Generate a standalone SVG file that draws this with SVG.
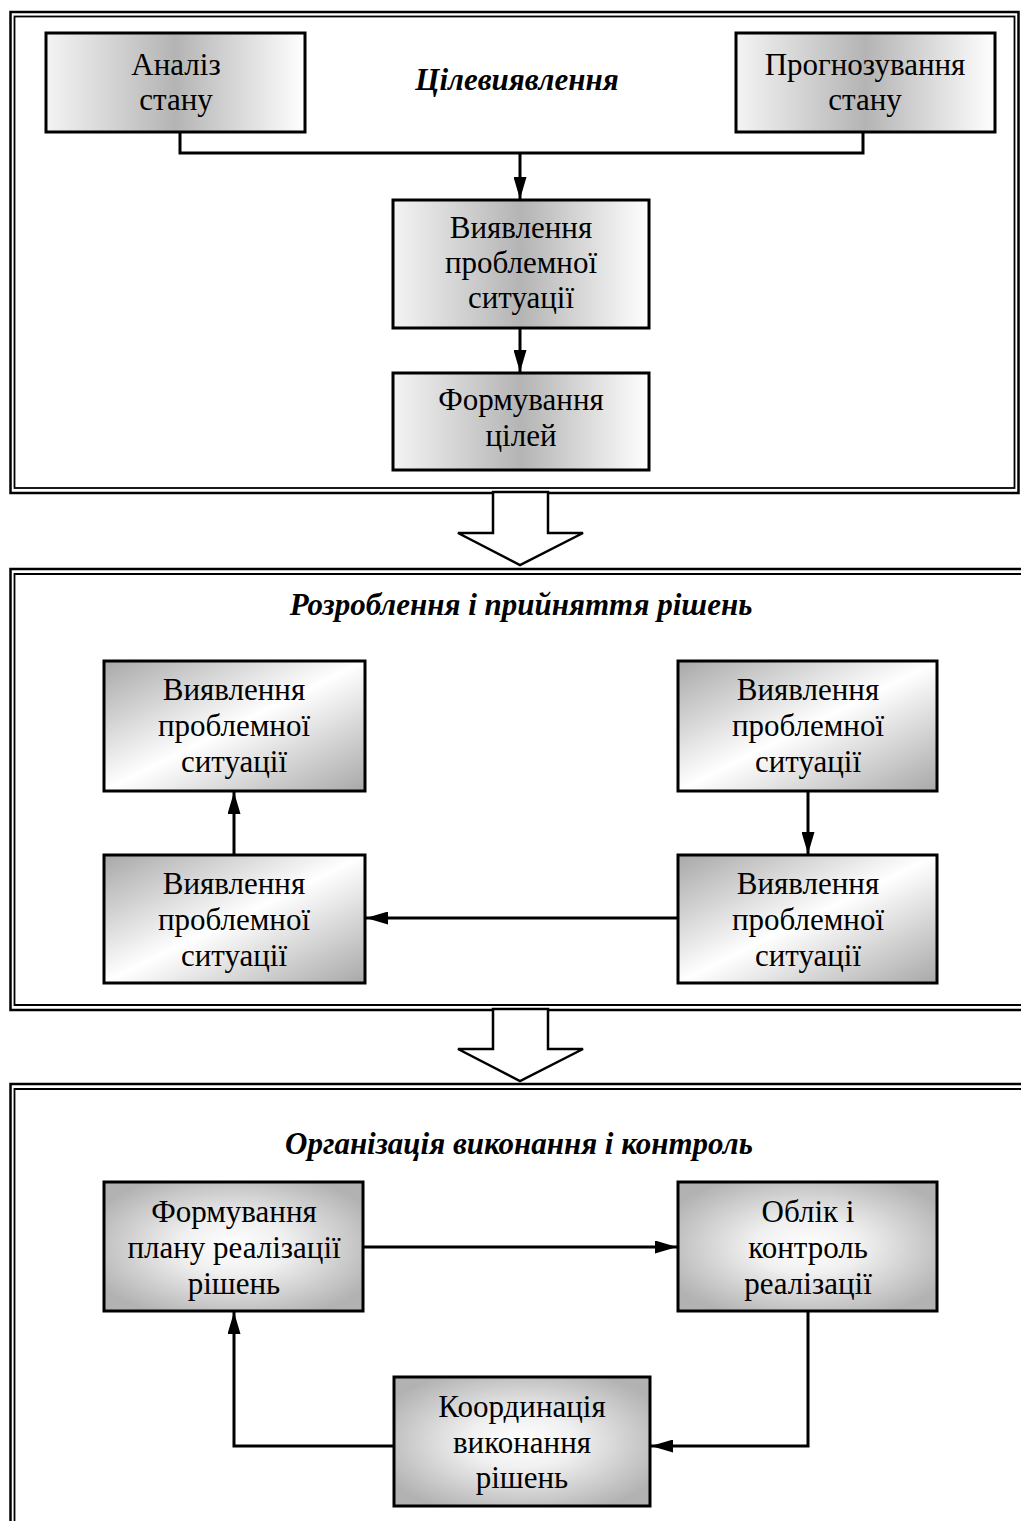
<svg xmlns="http://www.w3.org/2000/svg" width="1021" height="1521" viewBox="0 0 1021 1521">
  <defs>
    <style>
      .frame-o { fill: none; stroke: #000; stroke-width: 2.5; }
      .frame-i { fill: none; stroke: #000; stroke-width: 1.8; }
      .box { stroke: #000; stroke-width: 3; }
      .lbl { font-family: "Liberation Serif", "Times New Roman", serif; font-size: 31px; fill: #000; text-anchor: middle; }
      .ttl { font-family: "Liberation Serif", "Times New Roman", serif; font-size: 31px; font-weight: bold; font-style: italic; fill: #000; text-anchor: middle; }
      .wire { fill: none; stroke: #000; stroke-width: 3; }
      .big { fill: #fff; stroke: #000; stroke-width: 2.5; stroke-linejoin: miter; }
    </style>
    <!-- horizontal shading for the first block -->
    <linearGradient id="gH" x1="0" y1="0" x2="1" y2="0">
      <stop offset="0" stop-color="#f4f4f4"/>
      <stop offset="0.5" stop-color="#b4b4b4"/>
      <stop offset="1" stop-color="#ffffff"/>
    </linearGradient>
    <!-- diagonal shading for the second block -->
    <linearGradient id="gD" x1="0" y1="0" x2="1" y2="1">
      <stop offset="0" stop-color="#a8a8a8"/>
      <stop offset="0.5" stop-color="#ffffff"/>
      <stop offset="1" stop-color="#a8a8a8"/>
    </linearGradient>
    <!-- centre glow for the third block -->
    <radialGradient id="gR" cx="0.5" cy="0.5" r="0.6">
      <stop offset="0" stop-color="#ffffff"/>
      <stop offset="0.35" stop-color="#f0f0f0"/>
      <stop offset="1" stop-color="#b2b2b2"/>
    </radialGradient>
    <marker id="ah" viewBox="0 0 22 13" refX="22" refY="6.5" markerWidth="22" markerHeight="13" markerUnits="userSpaceOnUse" orient="auto">
      <path d="M0,0 L22,6.5 L0,13 Z" fill="#000"/>
    </marker>
  </defs>

  <rect width="1021" height="1521" fill="#fff"/>

  <!-- double-line section frames -->
  <g id="frames">
    <rect class="frame-o" x="10.5" y="12" width="1008" height="481"/>
    <rect class="frame-i" x="14.5" y="16.5" width="1000" height="471.5"/>
    <path class="frame-o" d="M1030,569 H10.5 V1010 H1030"/>
    <path class="frame-i" d="M1030,574 H14.5 V1005 H1030"/>
    <path class="frame-o" d="M1030,1084 H10.5 V1530"/>
    <path class="frame-i" d="M1030,1089 H14.5 V1530"/>
  </g>

  <!-- hollow block arrows between sections -->
  <g id="stage-arrows">
    <polygon class="big" points="493,492 493,533 458,533 520,565 583,533 548,533 548,492"/>
    <polygon class="big" points="493,1009 493,1049 458,1049 520,1081 583,1049 548,1049 548,1009"/>
  </g>

  <!-- section titles -->
  <g id="titles">
    <text class="ttl" x="517" y="90">Цілевиявлення</text>
    <text class="ttl" x="521" y="615">Розроблення і прийняття рішень</text>
    <text class="ttl" x="519" y="1154">Організація виконання і контроль</text>
  </g>

  <!-- connectors -->
  <g id="connectors">
    <path class="wire" d="M180,132 V153 H863 V132"/>
    <path class="wire" d="M520,153 V199" marker-end="url(#ah)"/>
    <path class="wire" d="M520,328 V372" marker-end="url(#ah)"/>

    <path class="wire" d="M234,855 V792" marker-end="url(#ah)"/>
    <path class="wire" d="M808,791 V854" marker-end="url(#ah)"/>
    <path class="wire" d="M678,918 H366" marker-end="url(#ah)"/>

    <path class="wire" d="M363,1247 H677" marker-end="url(#ah)"/>
    <path class="wire" d="M808,1311 V1446 H651" marker-end="url(#ah)"/>
    <path class="wire" d="M394,1446 H234 V1312" marker-end="url(#ah)"/>
  </g>

  <!-- section 1 nodes -->
  <g id="n-analiz">
    <rect class="box" x="46" y="33" width="259" height="99" fill="url(#gH)"/>
    <text class="lbl" x="176" y="75">Аналіз</text>
    <text class="lbl" x="176" y="110">стану</text>
  </g>
  <g id="n-prognoz">
    <rect class="box" x="736" y="33" width="259" height="99" fill="url(#gH)"/>
    <text class="lbl" x="865" y="75">Прогнозування</text>
    <text class="lbl" x="865" y="110">стану</text>
  </g>
  <g id="n-problem-1">
    <rect class="box" x="393" y="200" width="256" height="128" fill="url(#gH)"/>
    <text class="lbl" x="521" y="238">Виявлення</text>
    <text class="lbl" x="521" y="273">проблемної</text>
    <text class="lbl" x="521" y="308">ситуації</text>
  </g>
  <g id="n-goals">
    <rect class="box" x="393" y="373" width="256" height="97" fill="url(#gH)"/>
    <text class="lbl" x="521" y="410">Формування</text>
    <text class="lbl" x="521" y="446">цілей</text>
  </g>

  <!-- section 2 nodes -->
  <g id="n-dec-tl">
    <rect class="box" x="104" y="661" width="261" height="130" fill="url(#gD)"/>
    <text class="lbl" x="234" y="700">Виявлення</text>
    <text class="lbl" x="234" y="736">проблемної</text>
    <text class="lbl" x="234" y="772">ситуації</text>
  </g>
  <g id="n-dec-bl">
    <rect class="box" x="104" y="855" width="261" height="128" fill="url(#gD)"/>
    <text class="lbl" x="234" y="894">Виявлення</text>
    <text class="lbl" x="234" y="930">проблемної</text>
    <text class="lbl" x="234" y="966">ситуації</text>
  </g>
  <g id="n-dec-tr">
    <rect class="box" x="678" y="661" width="259" height="130" fill="url(#gD)"/>
    <text class="lbl" x="808" y="700">Виявлення</text>
    <text class="lbl" x="808" y="736">проблемної</text>
    <text class="lbl" x="808" y="772">ситуації</text>
  </g>
  <g id="n-dec-br">
    <rect class="box" x="678" y="855" width="259" height="128" fill="url(#gD)"/>
    <text class="lbl" x="808" y="894">Виявлення</text>
    <text class="lbl" x="808" y="930">проблемної</text>
    <text class="lbl" x="808" y="966">ситуації</text>
  </g>

  <!-- section 3 nodes -->
  <g id="n-plan">
    <rect class="box" x="104" y="1182" width="259" height="129" fill="url(#gR)"/>
    <text class="lbl" x="234" y="1222">Формування</text>
    <text class="lbl" x="234" y="1258">плану реалізації</text>
    <text class="lbl" x="234" y="1294">рішень</text>
  </g>
  <g id="n-control">
    <rect class="box" x="678" y="1182" width="259" height="129" fill="url(#gR)"/>
    <text class="lbl" x="808" y="1222">Облік і</text>
    <text class="lbl" x="808" y="1258">контроль</text>
    <text class="lbl" x="808" y="1294">реалізації</text>
  </g>
  <g id="n-coord">
    <rect class="box" x="394" y="1377" width="256" height="129" fill="url(#gR)"/>
    <text class="lbl" x="522" y="1417">Координація</text>
    <text class="lbl" x="522" y="1453">виконання</text>
    <text class="lbl" x="522" y="1488">рішень</text>
  </g>
</svg>
